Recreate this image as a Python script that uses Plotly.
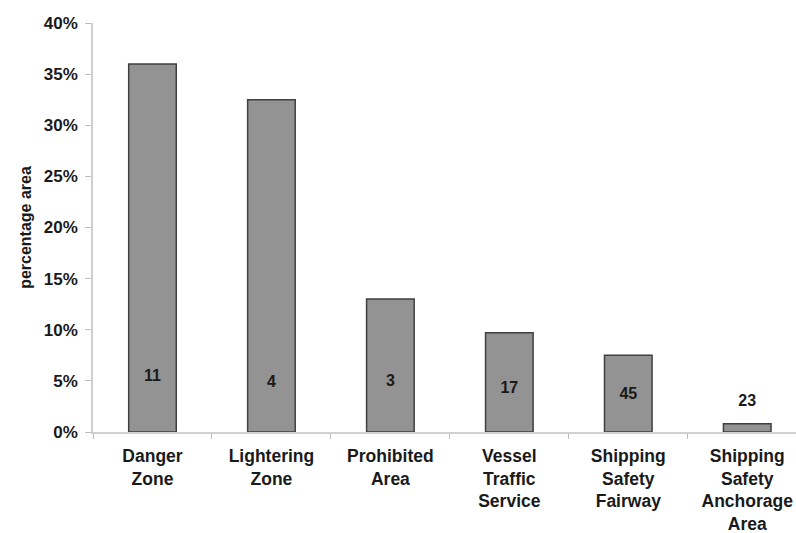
import plotly.graph_objects as go

categories = ["Danger<br>Zone", "Lightering<br>Zone", "Prohibited<br>Area",
              "Vessel<br>Traffic<br>Service", "Shipping<br>Safety<br>Fairway",
              "Shipping<br>Safety<br>Anchorage<br>Area"]
pct_area = [0.360, 0.325, 0.130, 0.097, 0.075, 0.008]
counts = ["11", "4", "3", "17", "45", "23"]
label_y = [0.054, 0.048, 0.049, 0.042, 0.036, 0.029]
y_ticks = [0, 0.05, 0.10, 0.15, 0.20, 0.25, 0.30, 0.35, 0.40]

FONT = "Liberation Sans, Arial, sans-serif"

fig = go.Figure()
fig.add_trace(go.Bar(
    x=categories, y=pct_area, width=0.4,
    marker=dict(color="#939393", line=dict(color="#404040", width=1.5)),
    hoverinfo="skip",
))
fig.add_trace(go.Scatter(
    x=categories, y=label_y, mode="text", text=counts,
    textfont=dict(family=FONT, size=16, color="#1a1a1a", weight="bold"),
    hoverinfo="skip",
))

fig.update_layout(
    width=796, height=533,
    margin=dict(l=93, r=0, t=23, b=101),
    paper_bgcolor="white", plot_bgcolor="white",
    showlegend=False,
    font=dict(family=FONT, color="#1a1a1a"),
)
fig.update_xaxes(
    type="category", range=[-0.5, 5.41], automargin=False,
    showline=True, linecolor="#d0d0d0", linewidth=1.5,
    ticks="outside", tickson="boundaries", ticklen=5, tickcolor="#bdbdbd",
    tickfont=dict(family=FONT, size=17.5, color="#1a1a1a", weight="bold"),
    ticklabelstandoff=7,
    showgrid=False, zeroline=False,
)
fig.update_yaxes(
    range=[0, 0.40], tickvals=y_ticks, tickformat=".0%", automargin=False,
    showline=True, linecolor="#d0d0d0", linewidth=1.5,
    ticks="outside", ticklen=6, tickcolor="#bdbdbd",
    tickfont=dict(family=FONT, size=17, color="#1a1a1a", weight="bold"),
    ticklabelstandoff=4,
    showgrid=False, zeroline=False,
    title=dict(text="percentage area", font=dict(family=FONT, size=16, color="#1a1a1a", weight="bold"),
               standoff=8),
)

fig.write_html("out.html", config={"displayModeBar": False},
               post_script="document.body.style.margin='0';document.body.style.overflow='hidden';")
